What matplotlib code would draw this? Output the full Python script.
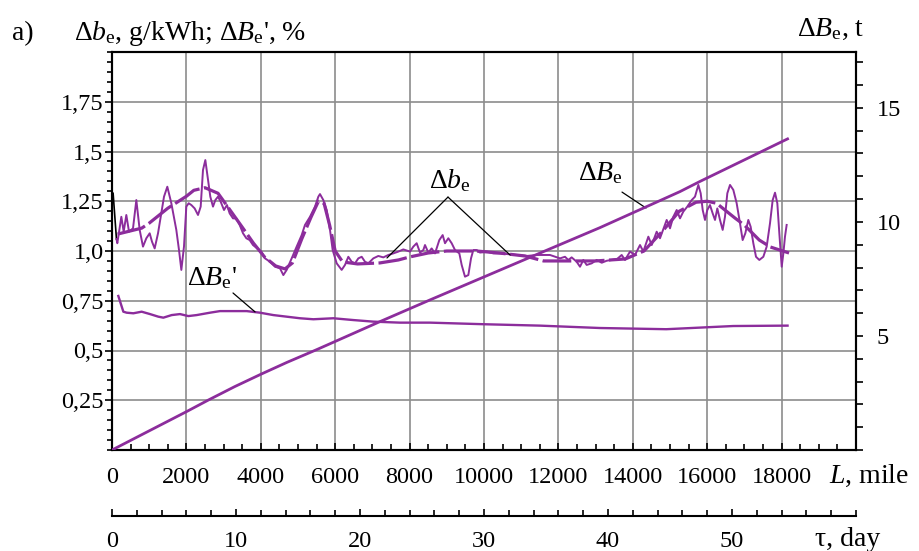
import numpy as np
import matplotlib
matplotlib.use("Agg")
import matplotlib.pyplot as plt
from matplotlib.ticker import MultipleLocator, FixedLocator

plt.rcParams['font.family'] = ['Liberation Serif', 'DejaVu Serif']
plt.rcParams['mathtext.fontset'] = 'custom'
plt.rcParams['mathtext.rm'] = 'Liberation Serif'
plt.rcParams['mathtext.it'] = 'Liberation Serif:italic'

# specific fuel consumption deviation, g/kWh (raw record)
be_mile = [30, 120, 143, 251, 314, 385, 457, 565, 654, 744, 833, 923, 1013, 1075, 1147, 1237,
           1326, 1398, 1487, 1595, 1729, 1801, 1864, 1935, 1998, 2061, 2133, 2222, 2312, 2384,
           2446, 2509, 2581, 2643, 2715, 2778, 2849, 2921, 3011, 3091, 3163, 3253, 3342, 3432,
           3522, 3611, 3701, 3790, 3906, 4014, 4113, 4247, 4382, 4516, 4606, 4695, 4830, 4964,
           5099, 5188, 5323, 5457, 5547, 5591, 5681, 5771, 5860, 5932, 6040, 6174, 6263, 6353,
           6443, 6532, 6622, 6712, 6801, 6891, 7025, 7159, 7294, 7428, 7563, 7697, 7831, 8011,
           8100, 8190, 8280, 8369, 8414, 8503, 8593, 8683, 8799, 8889, 8952, 9041, 9131, 9220,
           9337, 9400, 9489, 9579, 9651, 9713, 9803, 9892, 10072, 10251, 10430, 10609, 10878,
           11147, 11416, 11774, 12043, 12177, 12266, 12356, 12491, 12581, 12670, 12760, 12895,
           13029, 13164, 13298, 13433, 13567, 13701, 13790, 13925, 14059, 14194, 14283, 14418,
           14508, 14642, 14731, 14911, 15000, 15089, 15180, 15269, 15358, 15465, 15584, 15672,
           15762, 15825, 15879, 15941, 16003, 16075, 16147, 16210, 16272, 16344, 16416, 16478,
           16541, 16613, 16702, 16792, 16882, 16953, 17025, 17105, 17168, 17240, 17312, 17401,
           17509, 17599, 17688, 17760, 17823, 17885, 17939, 18003, 18047, 18091, 18136]
be_val = [1.29, 1.06, 1.039, 1.172, 1.097, 1.181, 1.097, 1.114, 1.256, 1.106, 1.022, 1.064, 1.089,
          1.047, 1.013, 1.089, 1.189, 1.273, 1.323, 1.240, 1.106, 1.005, 0.905, 1.022, 1.223, 1.240,
          1.231, 1.214, 1.181, 1.223, 1.407, 1.457, 1.357, 1.273, 1.223, 1.256, 1.273, 1.248, 1.206,
          1.231, 1.189, 1.164, 1.164, 1.131, 1.089, 1.064, 1.055, 1.030, 1.013, 0.997, 0.963, 0.946,
          0.921, 0.913, 0.879, 0.905, 0.963, 1.022, 1.080, 1.131, 1.172, 1.223, 1.273, 1.286, 1.256,
          1.206, 1.106, 1.005, 0.938, 0.905, 0.930, 0.971, 0.946, 0.938, 0.963, 0.971, 0.946, 0.938,
          0.963, 0.975, 0.968, 0.980, 0.988, 0.997, 1.008, 0.997, 1.022, 1.039, 0.992, 1.005, 1.030,
          0.992, 1.013, 0.988, 1.055, 1.080, 1.039, 1.064, 1.039, 1.005, 0.988, 0.930, 0.871, 0.879,
          0.963, 1.005, 1.005, 0.992, 0.997, 0.988, 0.988, 0.985, 0.980, 0.975, 0.980, 0.980, 0.963,
          0.971, 0.955, 0.968, 0.946, 0.921, 0.955, 0.930, 0.938, 0.955, 0.941, 0.951, 0.955, 0.958,
          0.980, 0.955, 0.997, 0.980, 1.030, 0.997, 1.072, 1.030, 1.097, 1.064, 1.156, 1.114, 1.172,
          1.206, 1.164, 1.198, 1.223, 1.256, 1.273, 1.332, 1.290, 1.206, 1.156, 1.206, 1.231, 1.189,
          1.156, 1.214, 1.156, 1.106, 1.172, 1.290, 1.332, 1.307, 1.240, 1.139, 1.055, 1.089, 1.156,
          1.122, 1.039, 0.971, 0.955, 0.971, 1.022, 1.139, 1.256, 1.293, 1.240, 1.089, 0.921, 0.988,
          1.072, 1.131]

# smoothed trend of the same quantity
trend_mile = [150, 800, 1000, 1500, 2000, 2200, 2500, 2850, 3100, 3500, 3800, 4100, 4400, 4650,
              4850, 5100, 5350, 5550, 5700, 5850, 6000, 6200, 6600, 7200, 7700, 8000, 8500, 9000,
              9800, 10400, 11100, 11600, 12200, 13000, 13800, 14300, 14800, 15250, 15700, 16000,
              16250, 16750, 17000, 17400, 17700, 18200]
trend_val = [1.085, 1.115, 1.14, 1.215, 1.275, 1.305, 1.318, 1.29, 1.225, 1.12, 1.04, 0.97, 0.925,
             0.91, 0.94, 1.06, 1.17, 1.25, 1.24, 1.13, 1.0, 0.945, 0.935, 0.94, 0.955, 0.97, 0.99,
             1.0, 1.0, 0.99, 0.975, 0.95, 0.95, 0.95, 0.96, 1.0, 1.1, 1.2, 1.245, 1.25, 1.24, 1.165,
             1.13, 1.055, 1.02, 0.99]

# relative fuel overconsumption, %
bp_mile = [170, 305, 394, 573, 797, 1022, 1245, 1380, 1604, 1828, 2052, 2276, 2634, 2903, 3261,
           3620, 3978, 4337, 4695, 5054, 5412, 5950, 6487, 7025, 7742, 8548, 10000, 11500, 13118,
           14900, 15800, 16700, 18160]
bp_val = [0.774, 0.695, 0.690, 0.687, 0.695, 0.683, 0.670, 0.665, 0.678, 0.683, 0.673, 0.678,
          0.690, 0.698, 0.698, 0.698, 0.690, 0.678, 0.670, 0.662, 0.657, 0.662, 0.653, 0.645,
          0.640, 0.640, 0.632, 0.625, 0.613, 0.607, 0.615, 0.623, 0.625]

# cumulative fuel overconsumption, t
bt_mile = [0, 1000, 2000, 2590, 3300, 4000, 4700, 5502, 7204, 8548, 11326, 13118, 15269, 15800, 18160]
bt_val = [0, 0.84, 1.68, 2.19, 2.78, 3.32, 3.84, 4.40, 5.63, 6.58, 8.51, 9.75, 11.33, 11.77, 13.64]

y_ticks = [0.25, 0.5, 0.75, 1.0, 1.25, 1.5, 1.75]
y_labels = ['0,25', '0,5', '0,75', '1,0', '1,25', '1,5', '1,75']
day_ticks = [0, 10, 20, 30, 40, 50]

purple = '#8c2d9c'
grid_c = '#8c8c8c'
fs = 17.5
cap = 20

fig = plt.figure(figsize=(9.19, 5.51), dpi=100)
ax = fig.add_axes([112 / 919, 1 - 450 / 551, (856 - 112) / 919, (450 - 52) / 551])
ax2 = ax.twinx()

ax.set_xlim(0, 20000)
ax.set_ylim(0, 2.0)
ax2.set_ylim(0, 17.45)

ax.grid(True, which='major', color=grid_c, lw=1.2)
ax.set_axisbelow(True)

# raw record: first stretch in black, the rest in purple
ax.plot(be_mile[:2], be_val[:2], color='black', lw=1.2, zorder=3)
ax.plot(be_mile[1:], be_val[1:], color=purple, lw=1.4, solid_joinstyle='round', zorder=3)
ax.plot(trend_mile, trend_val, color=purple, lw=2.3, ls=(0, (9, 1.4)), zorder=3)
ax.plot(bp_mile, bp_val, color=purple, lw=1.7, zorder=3)
ax2.plot(bt_mile, bt_val, color=purple, lw=2.0, zorder=3)

# ticks
ax.set_xticks(range(0, 20000, 2000))
ax.set_xticklabels([str(v) for v in range(0, 20000, 2000)])
ax.xaxis.set_minor_locator(MultipleLocator(500))
ax.yaxis.set_major_locator(FixedLocator(y_ticks))
ax.set_yticklabels(y_labels)
ax.yaxis.set_minor_locator(MultipleLocator(0.05))
ax.tick_params(axis='x', which='both', direction='in', labelsize=fs, pad=12, width=1.2)
ax.tick_params(axis='x', which='major', length=5)
ax.tick_params(axis='x', which='minor', length=4)
ax.tick_params(axis='y', which='both', direction='out', labelsize=fs, pad=1, width=1.2)
ax.tick_params(axis='y', which='major', length=5)
ax.tick_params(axis='y', which='minor', length=3.5)

ax2.set_yticks([5, 10, 15])
ax2.yaxis.set_minor_locator(MultipleLocator(1))
ax2.tick_params(axis='y', which='both', direction='out', labelsize=fs, pad=10, width=1.2)
ax2.tick_params(axis='y', which='major', length=5)
ax2.tick_params(axis='y', which='minor', length=5)

for a in (ax, ax2):
    for s in a.spines.values():
        s.set_linewidth(1.5)
        s.set_color('black')

# day scale under the mileage scale
sec = ax.secondary_xaxis(-(515.7 - 450) / 398,
                         functions=(lambda m: m * 0.003, lambda d: d / 0.003))
sec.set_xticks(day_ticks)
sec.xaxis.set_minor_locator(MultipleLocator(2))
sec.tick_params(axis='x', which='both', direction='in', labelsize=fs, pad=11, width=1.2)
sec.tick_params(axis='x', which='major', length=5)
sec.tick_params(axis='x', which='minor', length=4)
sec.spines['bottom'].set_linewidth(1.5)

# curve labels with leader lines
lead = dict(arrowstyle='-', color='black', lw=0.9, shrinkA=0, shrinkB=0)
ax.text(9086, 1.352, r'$\Delta\mathit{b}_\mathrm{e}$', ha='center', va='center', fontsize=cap)
ax.annotate('', xy=(7392, 0.965), xytext=(9032, 1.271), arrowprops=lead)
ax.annotate('', xy=(10699, 0.980), xytext=(9032, 1.271), arrowprops=lead)
ax.text(13118, 1.392, r'$\Delta\mathit{B}_\mathrm{e}$', ha='center', va='center', fontsize=cap)
ax.annotate('', xy=(14355, 1.216), xytext=(13710, 1.296), arrowprops=lead)
ax.text(2688, 0.864, r"$\Delta\mathit{B}_\mathrm{e}$'", ha='center', va='center', fontsize=cap)
ax.annotate('', xy=(3845, 0.694), xytext=(3253, 0.789), arrowprops=lead)

# axis captions
fig.text(12 / 919, 1 - 34 / 551, 'a)', ha='left', va='center', fontsize=cap)
fig.text(74 / 919, 1 - 33 / 551, r"$\Delta\mathit{b}_\mathrm{e}$, g/kWh; $\Delta\mathit{B}_\mathrm{e}$', %",
         ha='left', va='center', fontsize=cap)
fig.text(797 / 919, 1 - 29 / 551, r'$\Delta\mathit{B}_\mathrm{e}$, t', ha='left', va='center', fontsize=cap)
fig.text(829 / 919, 1 - 476 / 551, r'$\mathit{L}$, mile', ha='left', va='center', fontsize=cap)
fig.text(815 / 919, 1 - 540 / 551, 'τ, day', ha='left', va='center', fontsize=cap)

fig.savefig('out.png', dpi=100)
